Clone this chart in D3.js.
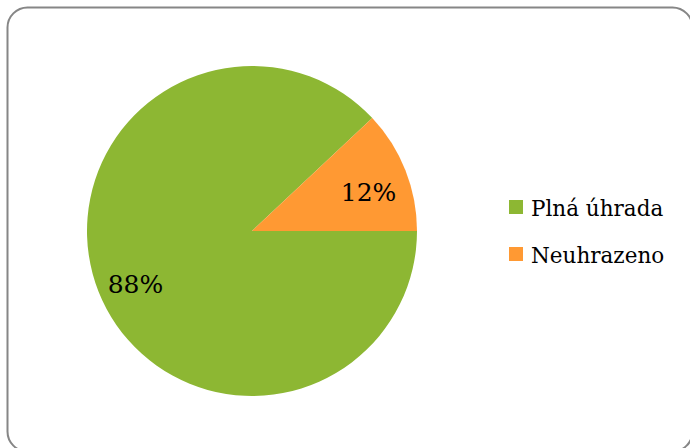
<!DOCTYPE html>
<html><head><meta charset="utf-8">
<script src="https://cdn.jsdelivr.net/npm/d3@7"></script>
<style>html,body{margin:0;padding:0;background:#fff;}svg{display:block;}</style>
</head><body>
<svg id="c" width="690" height="448"></svg>
<script>
const categories = ["Plná úhrada", "Neuhrazeno"];
const values = [88, 12];
const labels = ["88%", "12%"];
const colors = ["#8DB733", "#FF9933"];

const svg = d3.select("#c");
svg.append("rect").attr("x", 7.5).attr("y", 7.5).attr("width", 685).attr("height", 444)
  .attr("rx", 20).attr("ry", 20).attr("fill", "#fff").attr("stroke", "#868686").attr("stroke-width", 2);

const cx = 252, cy = 231, R = 165;
const pie = d3.pie().sort(null).startAngle(Math.PI/2).endAngle(Math.PI/2 + 2*Math.PI);
const arcs = pie(values);
const arc = d3.arc().innerRadius(0).outerRadius(R);
const labelArc = d3.arc().innerRadius(R*0.76).outerRadius(R*0.76);
const g = svg.append("g").attr("transform", `translate(${cx},${cy})`);
g.selectAll("path").data(arcs).join("path").attr("d", arc).attr("fill", (d,i)=>colors[i]);
g.selectAll("text").data(arcs).join("text")
  .attr("x", d=>labelArc.centroid(d)[0])
  .attr("y", d=>labelArc.centroid(d)[1] + 7)
  .attr("dy", "0.35em")
  .attr("text-anchor", "middle")
  .attr("font-family", "DejaVu Serif")
  .attr("font-size", 25)
  .attr("fill", "#000")
  .text((d,i)=>labels[i]);

const leg = svg.append("g").attr("transform", "translate(509,200)");
const item = leg.selectAll("g").data(categories).join("g").attr("transform", (d,i)=>`translate(0,${i*47})`);
item.append("rect").attr("width", 14).attr("height", 14).attr("fill", (d,i)=>colors[i]);
item.append("text").attr("x", 22).attr("y", 16).attr("font-family", "DejaVu Serif").attr("font-size", 21.5)
  .attr("fill", "#000").text(d=>d);
</script>
</body></html>
